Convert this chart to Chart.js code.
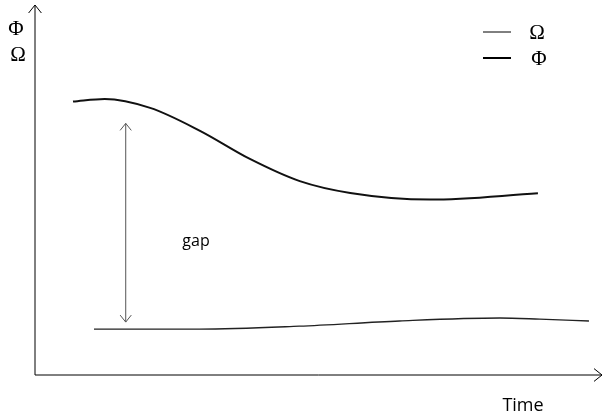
<!DOCTYPE html>
<html>
<head>
<meta charset="utf-8">
<script src="https://cdn.jsdelivr.net/npm/chart.js@4.4.0/dist/chart.umd.min.js"></script>
<style>
  html, body { margin: 0; padding: 0; background: #fff; }
  #wrap { width: 603px; height: 419px; position: relative; }
</style>
</head>
<body>
<div id="wrap"><canvas id="chart"></canvas></div>
<script>
// Curve values (x = time, y = level)
const phiX = [6.7, 12.3, 20.3, 29.1, 37.9, 46.7, 55.6, 69.7, 88.7];
const phiY = [73.9, 74.6, 72.2, 66.0, 58.4, 52.4, 49.2, 47.4, 49.1];

const omegaX = [10.4, 29.0, 46.6, 64.3, 82.0, 89.0, 97.7];
const omegaY = [12.4, 12.4, 13.2, 14.6, 15.4, 15.1, 14.6];

// gap arrow: x position, from-y, to-y
const gapX = 16.0;
const gapTop = 68.0;
const gapBottom = 14.3;

const toPoints = (xs, ys) => xs.map((x, i) => ({ x: x, y: ys[i] }));

// draw an open arrow head at (x, y) pointing in direction (dx, dy)
function arrowHead(ctx, x, y, dx, dy, size) {
  const len = Math.hypot(dx, dy);
  const ux = dx / len, uy = dy / len;
  ctx.beginPath();
  ctx.moveTo(x - ux * size - uy * size * 0.8, y - uy * size + ux * size * 0.8);
  ctx.lineTo(x, y);
  ctx.lineTo(x - ux * size + uy * size * 0.8, y - uy * size - ux * size * 0.8);
  ctx.stroke();
}

const sketchPlugin = {
  id: "sketch",
  afterDraw(chart) {
    const ctx = chart.ctx;
    const xs = chart.scales.x;
    const ys = chart.scales.y;
    const x0 = xs.getPixelForValue(0);
    const y0 = ys.getPixelForValue(0);
    const xEnd = xs.getPixelForValue(100);
    const yEnd = ys.getPixelForValue(100);

    ctx.save();
    // axes with arrows
    ctx.strokeStyle = "#000";
    ctx.lineWidth = 1;
    ctx.beginPath();
    ctx.moveTo(x0, y0);
    ctx.lineTo(x0, yEnd);
    ctx.moveTo(x0, y0);
    ctx.lineTo(xEnd, y0);
    ctx.stroke();
    arrowHead(ctx, x0, yEnd, 0, -1, 8);
    arrowHead(ctx, xEnd, y0, 1, 0, 8);

    // gap arrow
    const gx = xs.getPixelForValue(gapX);
    const gt = ys.getPixelForValue(gapTop);
    const gb = ys.getPixelForValue(gapBottom);
    ctx.strokeStyle = "#555";
    ctx.beginPath();
    ctx.moveTo(gx, gt);
    ctx.lineTo(gx, gb);
    ctx.stroke();
    arrowHead(ctx, gx, gt, 0, -1, 7);
    arrowHead(ctx, gx, gb, 0, 1, 7);

    // texts
    ctx.fillStyle = "#000";
    ctx.textAlign = "center";
    ctx.textBaseline = "middle";
    ctx.font = "16px 'Open Sans', sans-serif";
    ctx.fillText("gap", 196, 241);
    ctx.font = "18px 'Open Sans', sans-serif";
    ctx.fillText("Time", 523, 406);
    ctx.font = "21px 'Liberation Serif', serif";
    ctx.fillText("Φ", 16, 29);
    ctx.fillText("Ω", 18, 55);

    // legend
    ctx.strokeStyle = "#000";
    ctx.lineWidth = 1;
    ctx.beginPath();
    ctx.moveTo(483, 32);
    ctx.lineTo(511, 32);
    ctx.stroke();
    ctx.lineWidth = 2;
    ctx.beginPath();
    ctx.moveTo(483, 58);
    ctx.lineTo(511, 58);
    ctx.stroke();
    ctx.fillText("Ω", 537, 33);
    ctx.fillText("Φ", 539, 59);
    ctx.restore();
  }
};

new Chart(document.getElementById("chart"), {
  type: "line",
  data: {
    datasets: [
      {
        label: "Φ",
        data: toPoints(phiX, phiY),
        borderColor: "#111",
        borderWidth: 2,
        pointRadius: 0,
        cubicInterpolationMode: "monotone",
        fill: false
      },
      {
        label: "Ω",
        data: toPoints(omegaX, omegaY),
        borderColor: "#222",
        borderWidth: 1.3,
        pointRadius: 0,
        cubicInterpolationMode: "monotone",
        fill: false
      }
    ]
  },
  options: {
    responsive: true,
    maintainAspectRatio: false,
    animation: false,
    layout: { padding: { left: 35, right: 1, top: 5, bottom: 44 } },
    plugins: {
      legend: { display: false },
      tooltip: { enabled: false }
    },
    scales: {
      x: { type: "linear", min: 0, max: 100, display: false },
      y: { type: "linear", min: 0, max: 100, display: false }
    }
  },
  plugins: [sketchPlugin]
});
</script>
</body>
</html>
